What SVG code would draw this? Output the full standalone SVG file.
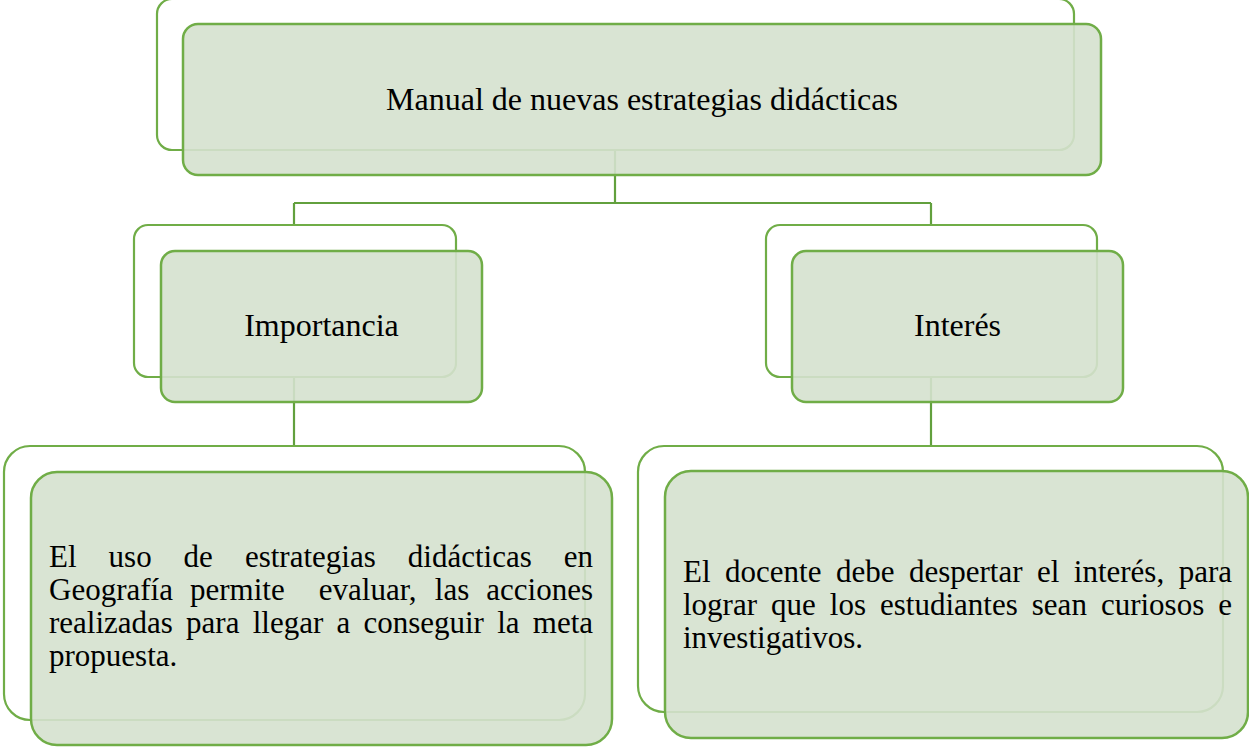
<svg xmlns="http://www.w3.org/2000/svg" width="1249" height="748" viewBox="0 0 1249 748">
<style>
.back{fill:#ffffff;stroke:#70ad47;stroke-width:2.2}
.front{fill:#d5e1ce;fill-opacity:0.9;stroke:#70ad47;stroke-width:2.5}
.conn{fill:none;stroke:#62a03d;stroke-width:2.2}
.h{font-family:"Liberation Serif","Times New Roman",serif;font-size:32px;fill:#000;text-anchor:middle}
.b{font-family:"Liberation Serif","Times New Roman",serif;font-size:31px;fill:#000}
</style>
<rect width="1249" height="748" fill="#ffffff"/>
<g id="connectors">
<path class="conn" d="M615,150 V203 M294,203 H931 M294,203 V225 M931,203 V225"/>
<path class="conn" d="M294,377 V446"/>
<path class="conn" d="M931,377 V446"/>
</g>
<g id="node-manual">
<rect class="back" x="157" y="-1" width="917" height="151" rx="15"/>
<rect class="front" x="183" y="24" width="918" height="151" rx="15"/>
<text class="h" x="642" y="110">Manual de nuevas estrategias didácticas</text>
</g>
<g id="node-importancia">
<rect class="back" x="134" y="225" width="322" height="152" rx="14"/>
<rect class="front" x="161" y="251" width="321" height="151" rx="14"/>
<text class="h" x="321.5" y="336">Importancia</text>
</g>
<g id="node-interes">
<rect class="back" x="766" y="225" width="331" height="152" rx="14"/>
<rect class="front" x="792" y="251" width="331" height="151" rx="14"/>
<text class="h" x="957.5" y="336">Interés</text>
</g>
<g id="node-uso">
<rect class="back" x="4" y="446" width="581" height="274" rx="26"/>
<rect class="front" x="31" y="472" width="581" height="273" rx="26"/>
<text class="b" y="567"><tspan x="49">El</tspan><tspan x="108.6">uso</tspan><tspan x="183.6">de</tspan><tspan x="244.9">estrategias</tspan><tspan x="407.8">didácticas</tspan><tspan x="563.8">en</tspan></text>
<text class="b" y="600"><tspan x="49">Geografía</tspan><tspan x="190">permite</tspan><tspan x="318.8">evaluar,</tspan><tspan x="434.8">las</tspan><tspan x="486.3">acciones</tspan></text>
<text class="b" y="633"><tspan x="49">realizadas</tspan><tspan x="186.1">para</tspan><tspan x="252.7">llegar</tspan><tspan x="336.5">a</tspan><tspan x="363.4">conseguir</tspan><tspan x="497.2">la</tspan><tspan x="532.8">meta</tspan></text>
<text class="b" x="49" y="666">propuesta.</text>
</g>
<g id="node-docente">
<rect class="back" x="638" y="446" width="585" height="266" rx="26"/>
<rect class="front" x="665" y="471" width="583" height="267" rx="26"/>
<text class="b" y="582"><tspan x="683">El</tspan><tspan x="725">docente</tspan><tspan x="835.9">debe</tspan><tspan x="908.9">despertar</tspan><tspan x="1037">el</tspan><tspan x="1073.8">interés,</tspan><tspan x="1178.7">para</tspan></text>
<text class="b" y="615"><tspan x="683">lograr</tspan><tspan x="771">que</tspan><tspan x="829.8">los</tspan><tspan x="880">estudiantes</tspan><tspan x="1031.8">sean</tspan><tspan x="1100.9">curiosos</tspan><tspan x="1218.3">e</tspan></text>
<text class="b" x="683" y="648">investigativos.</text>
</g>
</svg>
